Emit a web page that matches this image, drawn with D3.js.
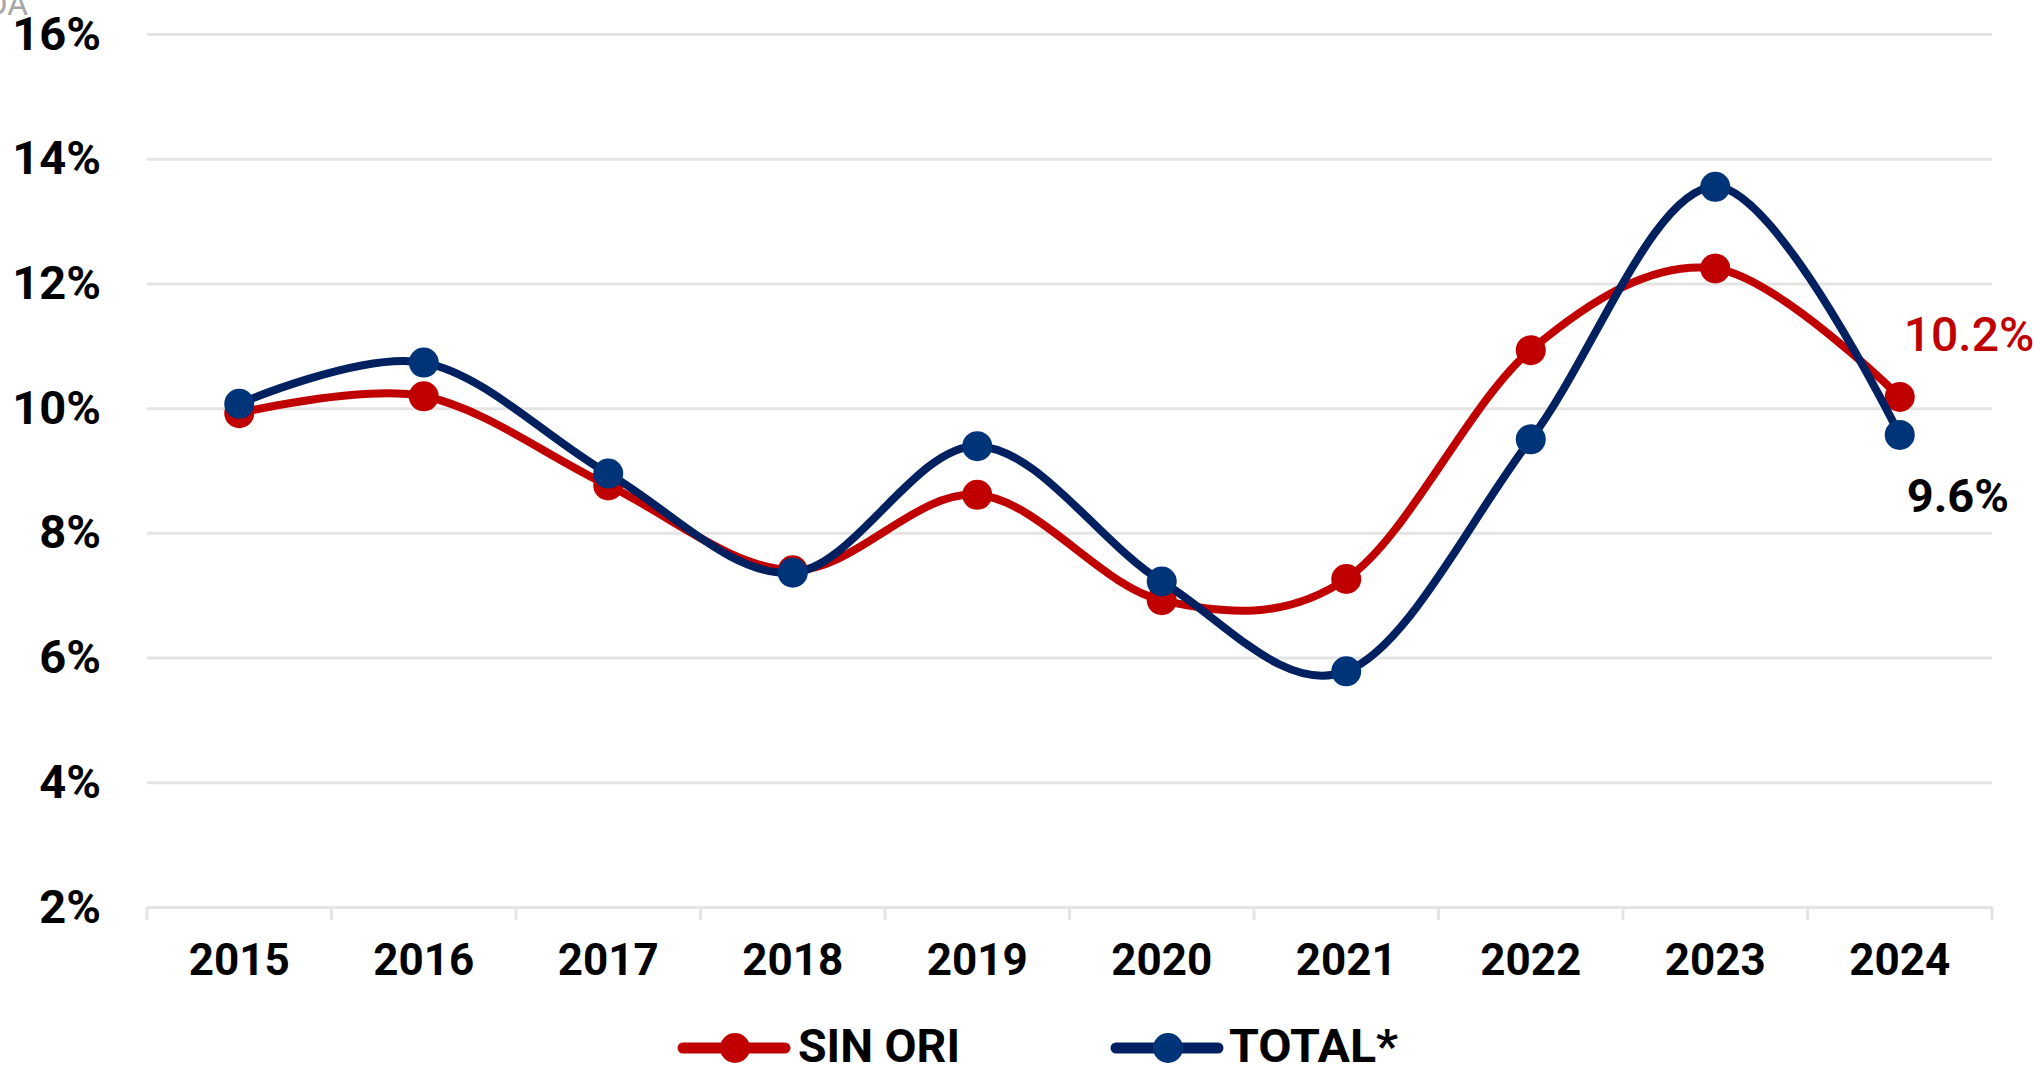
<!DOCTYPE html>
<html>
<head>
<meta charset="utf-8">
<script src="https://cdn.jsdelivr.net/npm/d3@7"></script>
<style>
  body { margin: 0; background: #fff; }
  text { font-family: Roboto, "Noto Sans", sans-serif; }
</style>
</head>
<body>
<div id="chart"></div>
<script>
// chart values
var years = ["2015","2016","2017","2018","2019","2020","2021","2022","2023","2024"];
var sinOri = [9.92, 10.19, 8.76, 7.40, 8.61, 6.92, 7.26, 10.93, 12.24, 10.18];
var total  = [10.07, 10.73, 8.95, 7.36, 9.39, 7.22, 5.78, 9.50, 13.55, 9.57];
var yTicks = [2, 4, 6, 8, 10, 12, 14, 16];
var seriesNames = ["SIN ORI", "TOTAL*"];

var W = 2040, H = 1066;
var plotLeft = 147, plotRight = 1992, plotTop = 34, plotBottom = 907;
var red = "#C00000", navy = "#002060", navyDot = "#003478", grid = "#E4E4E4";

var svg = d3.select("#chart").append("svg")
  .attr("width", W).attr("height", H);

// cut-off source text in the corner
svg.append("text")
  .attr("x", 28).attr("y", 15)
  .attr("text-anchor", "end")
  .attr("font-size", 32)
  .attr("fill", "#A6A6A6")
  .text("DA");

var x = d3.scaleBand().domain(years).range([plotLeft, plotRight]);
var y = d3.scaleLinear().domain([2, 16]).range([plotBottom, plotTop]);
var cx = function(d, i) { return x(years[i]) + x.bandwidth() / 2; };

// y axis with gridlines
var yAxis = svg.append("g")
  .attr("transform", "translate(" + plotLeft + ",0)")
  .call(d3.axisLeft(y).tickValues(yTicks).tickFormat(function(d) { return d + "%"; })
    .tickSize(-(plotRight - plotLeft)).tickPadding(46));
yAxis.select(".domain").remove();
yAxis.selectAll(".tick line").attr("stroke", grid).attr("stroke-width", 3);
yAxis.selectAll(".tick text")
  .attr("font-size", 47).attr("font-weight", "bold").attr("fill", "#000")
  .style("font-family", "Roboto, sans-serif");

// x axis
var xAxis = svg.append("g")
  .attr("transform", "translate(0," + plotBottom + ")")
  .call(d3.axisBottom(x).tickSize(0).tickPadding(37));
xAxis.select(".domain").remove();
xAxis.selectAll(".tick text")
  .attr("font-size", 44).attr("font-weight", "bold").attr("fill", "#000")
  .style("font-family", "Roboto, sans-serif");

// category separators below the axis
var bounds = years.map(function(d) { return x(d); }).concat([plotRight]);
svg.append("g").selectAll("line").data(bounds).join("line")
  .attr("x1", function(d) { return d; }).attr("x2", function(d) { return d; })
  .attr("y1", plotBottom).attr("y2", plotBottom + 13)
  .attr("stroke", grid).attr("stroke-width", 3);

var line = d3.line()
  .x(cx)
  .y(function(d) { return y(d); })
  .curve(d3.curveCardinal.tension(0));

function drawSeries(vals, lineColor, dotColor) {
  svg.append("path")
    .datum(vals)
    .attr("fill", "none")
    .attr("stroke", lineColor)
    .attr("stroke-width", 8)
    .attr("stroke-linecap", "round")
    .attr("d", line);
  svg.append("g").selectAll("circle").data(vals).join("circle")
    .attr("cx", cx)
    .attr("cy", function(d) { return y(d); })
    .attr("r", 15)
    .attr("fill", dotColor);
}
drawSeries(sinOri, red, red);
drawSeries(total, navy, navyDot);

// end labels
var last = years.length - 1;
svg.append("text")
  .attr("x", cx(null, last) + 4).attr("y", y(sinOri[last]) - 46)
  .attr("font-size", 48).attr("font-weight", 500).attr("fill", red)
  .text(d3.format(".1f")(sinOri[last]) + "%");
svg.append("text")
  .attr("x", cx(null, last) + 7).attr("y", y(total[last]) + 77)
  .attr("font-size", 47).attr("font-weight", "bold").attr("fill", "#000")
  .text(d3.format(".1f")(total[last]) + "%");

// legend
var legend = [
  { name: seriesNames[0], line: red, dot: red, x0: 678, tx: 798, tw: 162 },
  { name: seriesNames[1], line: navy, dot: navyDot, x0: 1111, tx: 1229, tw: 169 }
];
var ly = 1048;
var lg = svg.append("g").selectAll("g").data(legend).join("g");
lg.append("line")
  .attr("x1", function(d) { return d.x0 + 5; }).attr("x2", function(d) { return d.x0 + 107; })
  .attr("y1", ly).attr("y2", ly)
  .attr("stroke", function(d) { return d.line; })
  .attr("stroke-width", 11).attr("stroke-linecap", "round");
lg.append("circle")
  .attr("cx", function(d) { return d.x0 + 57; }).attr("cy", ly)
  .attr("r", 15)
  .attr("fill", function(d) { return d.dot; });
lg.append("text")
  .attr("x", function(d) { return d.tx; }).attr("y", 1062)
  .attr("font-size", 46).attr("font-weight", "bold").attr("fill", "#000")
  .attr("textLength", function(d) { return d.tw; })
  .attr("lengthAdjust", "spacingAndGlyphs")
  .text(function(d) { return d.name; });
</script>
</body>
</html>
